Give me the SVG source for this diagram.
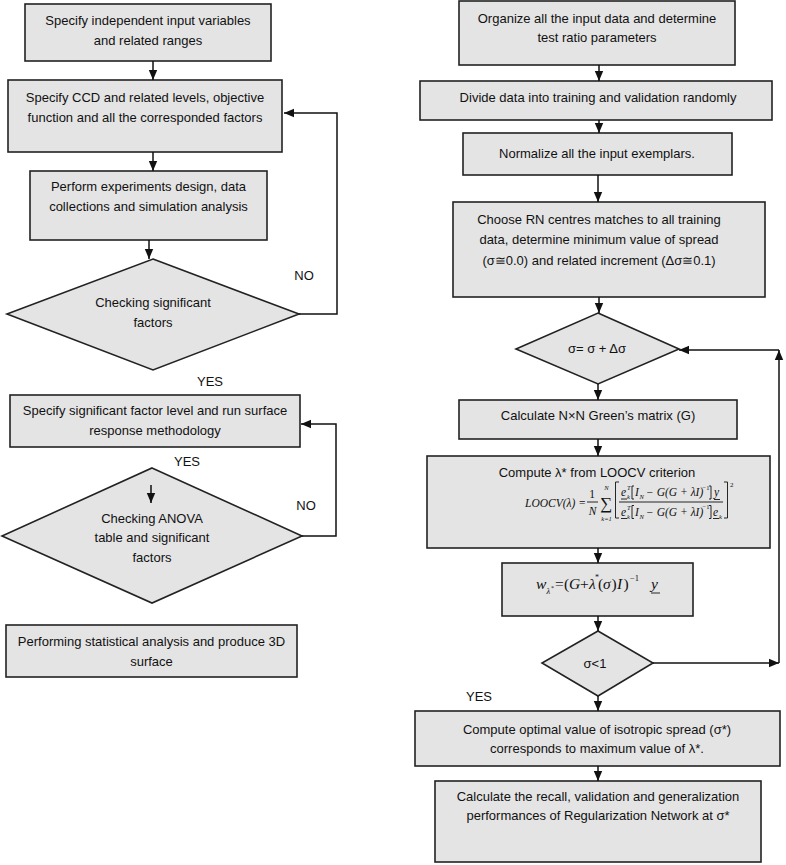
<svg xmlns="http://www.w3.org/2000/svg" width="786" height="865" viewBox="0 0 786 865">
<defs>
<style>
.box{fill:#e4e4e4;stroke:#222;stroke-width:1.6}
.t{font-family:"Liberation Sans",Arial,sans-serif;font-size:13px;fill:#111;text-anchor:middle}
.lbl{font-family:"Liberation Sans",Arial,sans-serif;font-size:13px;fill:#111;text-anchor:middle}
.c{fill:none;stroke:#111;stroke-width:1.5}
.m{font-family:"Liberation Serif","Times New Roman",serif;font-style:italic;fill:#111}
.mu{font-family:"Liberation Serif","Times New Roman",serif;fill:#111}
.ml{stroke:#111;stroke-width:0.9;fill:none}
</style>
<marker id="ah" markerUnits="userSpaceOnUse" markerWidth="10" markerHeight="10" viewBox="0 0 10 10" refX="10" refY="5" orient="auto">
<path d="M0,0.8 L10,5 L0,9.2 Z" fill="#111"/>
</marker>
</defs>
<rect width="786" height="865" fill="#fff"/>

<g id="L1"><rect class="box" x="25" y="4" width="246" height="57"/>
<text class="t" x="148" y="24.5">Specify independent input variables</text>
<text class="t" x="148" y="44.5">and related ranges</text></g>

<g id="L2"><rect class="box" x="8" y="80" width="274" height="72"/>
<text class="t" x="145" y="101.5">Specify CCD and related levels, objective</text>
<text class="t" x="145" y="121.5">function and all the corresponded factors</text></g>

<g id="L3"><rect class="box" x="30" y="171" width="237" height="69"/>
<text class="t" x="148.5" y="190.5">Perform experiments design, data</text>
<text class="t" x="148.5" y="210.5">collections and simulation analysis</text></g>

<g id="LD1"><polygon class="box" points="153,259 299,314 153,370 7,314"/>
<text class="t" x="153" y="306.5">Checking significant</text>
<text class="t" x="153" y="326.5">factors</text></g>

<g id="L4"><rect class="box" x="10" y="395" width="290" height="52"/>
<text class="t" x="155" y="414.5">Specify significant factor level and run surface</text>
<text class="t" x="155" y="434.5">response methodology</text></g>

<g id="LD2"><polygon class="box" points="152,468 302,536 152,603 2,536"/>
<text class="t" x="152" y="522.5">Checking ANOVA</text>
<text class="t" x="152" y="541.5">table and significant</text>
<text class="t" x="152" y="561.5">factors</text></g>

<g id="L5"><rect class="box" x="6" y="625" width="291" height="52"/>
<text class="t" x="151.5" y="645.5">Performing statistical analysis and produce 3D</text>
<text class="t" x="151.5" y="665.5">surface</text></g>

<g id="R1"><rect class="box" x="459" y="1" width="276" height="64"/>
<text class="t" x="597" y="22.5">Organize all the input data and determine</text>
<text class="t" x="597" y="41.5">test ratio parameters</text></g>

<g id="R2"><rect class="box" x="420" y="81" width="352" height="39"/>
<text class="t" x="598" y="101.5">Divide data into training and validation randomly</text></g>

<g id="R3"><rect class="box" x="463" y="133" width="269" height="42"/>
<text class="t" x="597" y="157.5">Normalize all the input exemplars.</text></g>

<g id="R4"><rect class="box" x="453" y="202" width="312" height="95"/>
<text class="t" x="599" y="223.5">Choose RN centres matches to all training</text>
<text class="t" x="599" y="244">data, determine minimum value of spread</text>
<text class="t" x="599" y="264.5">(σ≅0.0) and related increment (Δσ≅0.1)</text></g>

<g id="RD1"><polygon class="box" points="598,313 679,349 598,384 516,349"/>
<text class="t" x="597" y="353">σ= σ + Δσ</text></g>

<g id="R5"><rect class="box" x="459" y="400" width="278" height="39"/>
<text class="t" x="598" y="419.5">Calculate N×N Green’s matrix (G)</text></g>

<g id="R6"><rect class="box" x="427" y="456" width="343" height="92"/>
<text class="t" x="597" y="476.5">Compute λ* from LOOCV criterion</text>
<text class="m" x="525" y="507" font-size="11.5">LOOCV<tspan class="mu">(</tspan>λ<tspan class="mu">) =</tspan></text>
<text class="mu" x="592" y="497.5" font-size="11.5" text-anchor="middle">1</text>
<line class="ml" x1="587" y1="502" x2="598" y2="502"/>
<text class="m" x="592.5" y="514.5" font-size="11.5" text-anchor="middle">N</text>
<text class="mu" x="606" y="509" font-size="17" text-anchor="middle">∑</text>
<text class="m" x="606.5" y="490" font-size="6.5" text-anchor="middle">N</text>
<text class="m" x="606.5" y="521" font-size="6.5" text-anchor="middle">k<tspan class="mu">=1</tspan></text>
<path class="ml" d="M619,482 h-3.5 v36 h3.5" stroke-width="1.1"/>
<path class="ml" d="M724,482 h3.5 v36 h-3.5" stroke-width="1.1"/>
<text class="mu" x="730" y="487" font-size="7">2</text>
<text class="m" x="621" y="496" font-size="11.5">e</text>
<line class="ml" x1="621" y1="499" x2="627" y2="499"/>
<text class="m" x="627" y="499" font-size="6.5">k</text>
<text class="m" x="627" y="490" font-size="6.5">T</text>
<path class="ml" d="M634,486 h-2 v13 h2"/>
<text class="m" x="635" y="496" font-size="11.5">I</text>
<text class="m" x="639.5" y="499" font-size="6.5">N</text>
<text class="m" x="646" y="496" font-size="11.5"><tspan class="mu">−</tspan> G<tspan class="mu">(</tspan>G <tspan class="mu">+</tspan> λI<tspan class="mu">)</tspan></text>
<text class="mu" x="702.5" y="489.5" font-size="6.5">−1</text>
<path class="ml" d="M709,486 h2 v13 h-2"/>
<text class="m" x="714" y="496" font-size="11.5">y</text>
<line class="ml" x1="714" y1="499.5" x2="720" y2="499.5"/>
<line class="ml" x1="619" y1="502" x2="723" y2="502"/>
<text class="m" x="621" y="515.5" font-size="11.5">e</text>
<line class="ml" x1="621" y1="518.5" x2="627" y2="518.5"/>
<text class="m" x="627" y="518.5" font-size="6.5">k</text>
<text class="m" x="627" y="509.5" font-size="6.5">T</text>
<path class="ml" d="M634,505.5 h-2 v13 h2"/>
<text class="m" x="635" y="515.5" font-size="11.5">I</text>
<text class="m" x="639.5" y="518.5" font-size="6.5">N</text>
<text class="m" x="646" y="515.5" font-size="11.5"><tspan class="mu">−</tspan> G<tspan class="mu">(</tspan>G <tspan class="mu">+</tspan> λI<tspan class="mu">)</tspan></text>
<text class="mu" x="702.5" y="509" font-size="6.5">−1</text>
<path class="ml" d="M709,505.5 h2 v13 h-2"/>
<text class="m" x="713" y="515.5" font-size="11.5">e</text>
<line class="ml" x1="713" y1="518.5" x2="719" y2="518.5"/>
<text class="m" x="719" y="518.5" font-size="6.5">k</text></g>

<g id="R7"><rect class="box" x="502" y="563" width="191" height="53"/>
<text class="m" x="536" y="589" font-size="15.5">w</text>
<text class="m" x="546.5" y="594" font-size="8.5">λ</text>
<text class="mu" x="551" y="589.5" font-size="6">*</text>
<text class="mu" x="555" y="589" font-size="15.5">=</text>
<text class="mu" x="564" y="589" font-size="15.5">(</text>
<text class="m" x="569" y="589" font-size="15.5">G</text>
<text class="mu" x="580" y="589" font-size="15.5">+</text>
<text class="m" x="589" y="589" font-size="15.5">λ</text>
<text class="mu" x="595" y="580" font-size="8">*</text>
<text class="mu" x="598" y="589" font-size="15.5">(</text>
<text class="m" x="603" y="589" font-size="15.5">σ</text>
<text class="mu" x="611.5" y="589" font-size="15.5">)</text>
<text class="m" x="617" y="589" font-size="15.5">I</text>
<text class="mu" x="623.5" y="589" font-size="15.5">)</text>
<text class="mu" x="630" y="580.5" font-size="8.5">−1</text>
<text class="m" x="651" y="589" font-size="15.5">y</text>
<line class="ml" x1="651" y1="593" x2="660" y2="593" stroke-width="1.1"/></g>

<g id="RD2"><polygon class="box" points="598,631 653,663 598,696 542,663"/>
<text class="t" x="595" y="667.5">σ&lt;1</text></g>

<g id="R8"><rect class="box" x="415" y="711" width="365" height="55"/>
<text class="t" x="597" y="733.5">Compute optimal value of isotropic spread (σ*)</text>
<text class="t" x="597" y="752.5">corresponds to maximum value of λ*.</text></g>

<g id="R9"><rect class="box" x="435" y="781" width="326" height="81"/>
<text class="t" x="598" y="800.5">Calculate the recall, validation and generalization</text>
<text class="t" x="598" y="819.5">performances of Regularization Network at σ*</text></g>

<g id="labels">
<text class="lbl" x="304" y="279.5">NO</text>
<text class="lbl" x="210" y="386">YES</text>
<text class="lbl" x="187" y="466">YES</text>
<text class="lbl" x="306" y="509.5">NO</text>
<text class="lbl" x="479" y="700.5">YES</text>
</g>

<g id="connectors">
<line class="c" x1="153" y1="61" x2="153" y2="80" marker-end="url(#ah)"/>
<line class="c" x1="153" y1="152" x2="153" y2="171" marker-end="url(#ah)"/>
<line class="c" x1="149" y1="240" x2="149" y2="259" marker-end="url(#ah)"/>
<polyline class="c" points="299,314 337,314 337,113 284,113" marker-end="url(#ah)"/>
<polyline class="c" points="302,536 336,536 336,424 301,424" marker-end="url(#ah)"/>
<line class="c" x1="151" y1="485" x2="151" y2="503" marker-end="url(#ah)"/>
<line class="c" x1="599" y1="65" x2="599" y2="81" marker-end="url(#ah)"/>
<line class="c" x1="599" y1="120" x2="599" y2="133" marker-end="url(#ah)"/>
<line class="c" x1="598" y1="175" x2="598" y2="202" marker-end="url(#ah)"/>
<line class="c" x1="599" y1="297" x2="599" y2="313" marker-end="url(#ah)"/>
<line class="c" x1="598" y1="384" x2="598" y2="400" marker-end="url(#ah)"/>
<line class="c" x1="598" y1="439" x2="598" y2="456" marker-end="url(#ah)"/>
<line class="c" x1="598" y1="548" x2="598" y2="563" marker-end="url(#ah)"/>
<line class="c" x1="598" y1="616" x2="598" y2="631" marker-end="url(#ah)"/>
<line class="c" x1="598" y1="696" x2="598" y2="711" marker-end="url(#ah)"/>
<line class="c" x1="598" y1="766" x2="598" y2="781" marker-end="url(#ah)"/>
<line class="c" x1="653" y1="663" x2="779" y2="663" marker-end="url(#ah)"/>
<line class="c" x1="779" y1="663" x2="779" y2="350" marker-end="url(#ah)"/>
<line class="c" x1="779" y1="350" x2="679" y2="350" marker-end="url(#ah)"/>
</g>
</svg>
